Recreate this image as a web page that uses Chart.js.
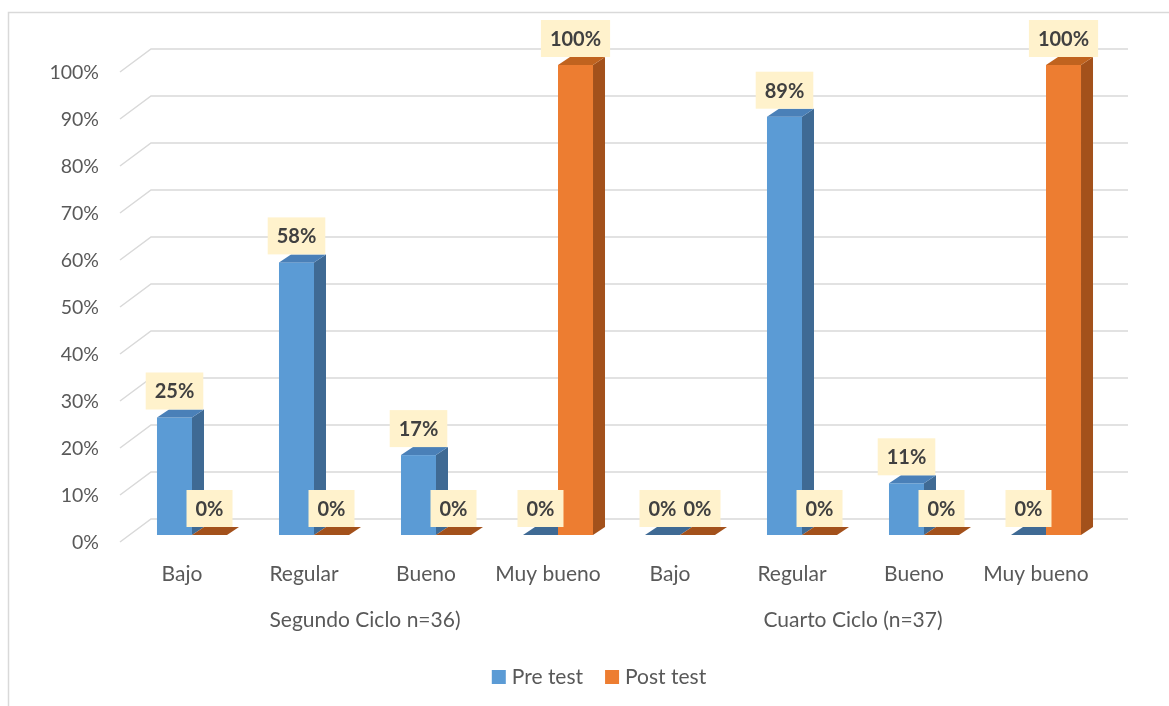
<!DOCTYPE html>
<html>
<head>
<meta charset="utf-8">
<script src="https://cdn.jsdelivr.net/npm/chart.js@4.4.1/dist/chart.umd.min.js"></script>
<style>
  html, body { margin: 0; background: #fff; }
  #wrap { width: 1169px; height: 706px; position: relative; }
</style>
</head>
<body>
<div id="wrap"><canvas id="chart"></canvas></div>
<script>
const categories = ["Bajo", "Regular", "Bueno", "Muy bueno", "Bajo", "Regular", "Bueno", "Muy bueno"];
const groups = ["Segundo Ciclo n=36)", "Cuarto Ciclo (n=37)"];
const seriesNames = ["Pre test", "Post test"];
const preTest = [0.25, 0.58, 0.17, 0, 0, 0.89, 0.11, 0];
const postTest = [0, 0, 0, 1, 0, 0, 0, 1];

const FONT = "Lato, 'Liberation Sans', sans-serif";
const TEXT = "#595959";
const GRID = "#D9D9D9";

// 3d look: depth of a bar, depth of the back wall, gap between front of floor and bars
const DX = 12, DY = 8;
const WALL_DX = 31, WALL_DY = 23, FRONT_GAP = 7, FRONT_SHIFT = 10;

const shades = [
  { front: "#5B9BD5", side: "#3F6A94", top: "#4A80B8" },
  { front: "#ED7D31", side: "#A3511B", top: "#C0631F" },
];

function poly(ctx, pts, fill) {
  ctx.beginPath();
  ctx.moveTo(pts[0][0], pts[0][1]);
  for (let i = 1; i < pts.length; i++) ctx.lineTo(pts[i][0], pts[i][1]);
  ctx.closePath();
  ctx.fillStyle = fill;
  ctx.fill();
}

function drawBar(ctx, el, c) {
  const l = el.x - el.width / 2, r = el.x + el.width / 2;
  const t = el.y, b = el.base;
  if (b - t > 0.5) {
    ctx.fillStyle = c.front;
    ctx.fillRect(l, t, r - l, b - t);
    poly(ctx, [[r, t], [r + DX, t - DY], [r + DX, b - DY], [r, b]], c.side);
  }
  poly(ctx, [[l, t], [r, t], [r + DX, t - DY], [l + DX, t - DY]], b - t > 0.5 ? c.top : c.side);
}

const bars3d = {
  id: "bars3d",
  beforeDatasetsDraw(chart) {
    const { ctx, chartArea: area, scales: { x, y } } = chart;
    ctx.save();

    // outer frame
    ctx.strokeStyle = GRID;
    ctx.lineWidth = 1.5;
    ctx.beginPath();
    ctx.moveTo(8.5, chart.height);
    ctx.lineTo(8.5, 12.5);
    ctx.lineTo(chart.width, 12.5);
    ctx.stroke();

    // floor / wall gridlines
    const fx = area.left - 11, bx = fx + WALL_DX, rx = area.right + 21;
    ctx.lineWidth = 1.5;
    y.ticks.forEach(tk => {
      const py = y.getPixelForValue(tk.value);
      const fy = py + FRONT_GAP, by = fy - WALL_DY;
      ctx.strokeStyle = GRID;
      ctx.beginPath();
      ctx.moveTo(fx, fy);
      ctx.lineTo(bx, by);
      ctx.lineTo(rx, by);
      ctx.stroke();

      ctx.fillStyle = TEXT;
      ctx.font = `19.5px ${FONT}`;
      ctx.textAlign = "right";
      ctx.textBaseline = "middle";
      ctx.fillText(`${Math.round(tk.value * 100)}%`, fx - 21, fy + 1);
    });

    // bars, category by category so the post bar covers the pre bar's side
    const metas = [chart.getDatasetMeta(0), chart.getDatasetMeta(1)];
    categories.forEach((_, i) => {
      metas.forEach((m, d) => drawBar(ctx, m.data[i], shades[d]));
    });
    ctx.restore();
    return false;
  },
  afterDraw(chart) {
    const { ctx, chartArea: area, scales: { x } } = chart;
    ctx.save();

    // value labels: all boxes first, then text
    const metas = [chart.getDatasetMeta(0), chart.getDatasetMeta(1)];
    const series = [preTest, postTest];
    ctx.font = `bold 20px ${FONT}`;
    const items = [];
    metas.forEach((m, d) => m.data.forEach((el, i) => {
      const txt = `${Math.round(series[d][i] * 100)}%`;
      const w = ctx.measureText(txt).width + 18, h = 37;
      items.push({ txt, cx: el.x, cy: el.y - DY - h / 2, w, h });
    }));
    ctx.fillStyle = "#FFF2CC";
    items.forEach(it => ctx.fillRect(it.cx - it.w / 2, it.cy - it.h / 2, it.w, it.h));
    ctx.fillStyle = "#404040";
    ctx.textAlign = "center";
    ctx.textBaseline = "middle";
    items.forEach(it => ctx.fillText(it.txt, it.cx, it.cy + 1));

    // category and group labels
    ctx.font = `21px ${FONT}`;
    ctx.fillStyle = TEXT;
    const base = area.bottom;
    categories.forEach((c, i) => ctx.fillText(c, x.getPixelForValue(i) - FRONT_SHIFT, base + 39));
    const per = categories.length / groups.length;
    groups.forEach((g, gi) => {
      const a = x.getPixelForValue(gi * per), b = x.getPixelForValue(gi * per + per - 1);
      ctx.fillText(g, (a + b) / 2 - FRONT_SHIFT, base + 85);
    });

    // legend
    const ly = 677, sq = 14;
    const w0 = ctx.measureText(seriesNames[0]).width, w1 = ctx.measureText(seriesNames[1]).width;
    const total = sq + 6 + w0 + 22 + sq + 6 + w1;
    let lx = 599 - total / 2;
    ctx.textAlign = "left";
    seriesNames.forEach((n, d) => {
      ctx.fillStyle = shades[d].front;
      ctx.fillRect(lx, ly - sq / 2, sq, sq);
      ctx.fillStyle = TEXT;
      ctx.fillText(n, lx + sq + 6, ly);
      lx += sq + 6 + ctx.measureText(n).width + 22;
    });
    ctx.restore();
  },
};

new Chart(document.getElementById("chart"), {
  type: "bar",
  data: {
    labels: categories,
    datasets: [
      { label: seriesNames[0], data: preTest, backgroundColor: shades[0].front },
      { label: seriesNames[1], data: postTest, backgroundColor: shades[1].front },
    ],
  },
  options: {
    responsive: true,
    maintainAspectRatio: false,
    animation: false,
    layout: { padding: { left: 131, right: 62, top: 65, bottom: 171 } },
    categoryPercentage: 0.574,
    barPercentage: 1,
    plugins: { legend: { display: false }, tooltip: { enabled: false } },
    scales: {
      x: { display: false },
      y: { display: false, min: 0, max: 1, ticks: { stepSize: 0.1 } },
    },
  },
  plugins: [bars3d],
});
</script>
</body>
</html>
